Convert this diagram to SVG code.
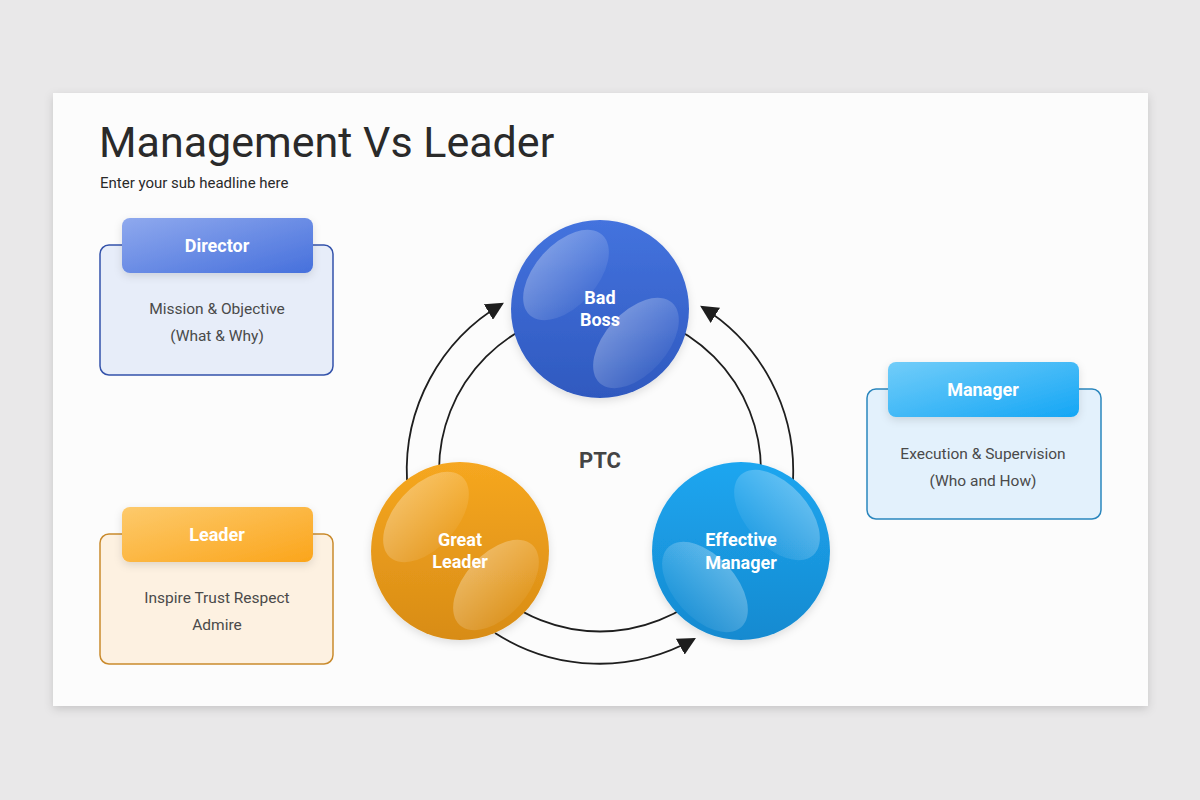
<svg xmlns="http://www.w3.org/2000/svg" width="1200" height="800" viewBox="0 0 1200 800">
<style>
.title{font-family:Roboto,"Liberation Sans",sans-serif;font-size:43px;fill:#2a2a2a}
.sub{font-family:Roboto,"Liberation Sans",sans-serif;font-size:15px;fill:#2a2a2a}
.hdr{font-family:Roboto,"Liberation Sans",sans-serif;font-size:18px;font-weight:bold;fill:#fff;text-anchor:middle}
.body{font-family:Roboto,"Liberation Sans",sans-serif;font-size:15.5px;fill:#4a4a4a;text-anchor:middle}
.ctext{font-family:Roboto,"Liberation Sans",sans-serif;font-size:18px;font-weight:bold;fill:#fff;text-anchor:middle}
.ptc{font-family:Roboto,"Liberation Sans",sans-serif;font-size:22px;font-weight:bold;fill:#444;text-anchor:middle}
.conn{fill:none;stroke:#1e1e1e;stroke-width:1.8}
.hl{fill:url(#hlg)}
</style>
<defs>
<filter id="cardsh" x="-5%" y="-5%" width="110%" height="115%">
<feDropShadow dx="0" dy="3" stdDeviation="5" flood-color="#000" flood-opacity="0.15"/>
</filter>
<filter id="sh" x="-20%" y="-20%" width="140%" height="140%">
<feDropShadow dx="0" dy="3" stdDeviation="4" flood-color="#000" flood-opacity="0.12"/>
</filter>
<marker id="arr" markerUnits="userSpaceOnUse" markerWidth="18" markerHeight="18" viewBox="0 0 16 16" refX="14" refY="8" orient="auto">
<path d="M0,0 L16,8 L0,16 z" fill="#1e1e1e"/>
</marker>
<linearGradient id="gDir" x1="0" y1="0" x2="1" y2="1"><stop offset="0" stop-color="#8fa9ee"/><stop offset="1" stop-color="#4670dc"/></linearGradient>
<linearGradient id="gLead" x1="0" y1="0" x2="1" y2="1"><stop offset="0" stop-color="#fdca6c"/><stop offset="1" stop-color="#fba51b"/></linearGradient>
<linearGradient id="gMan" x1="0" y1="0" x2="1" y2="1"><stop offset="0" stop-color="#72cdf9"/><stop offset="1" stop-color="#14a6f5"/></linearGradient>
<linearGradient id="cBlue" x1="0" y1="0" x2="0" y2="1"><stop offset="0" stop-color="#4473de"/><stop offset="1" stop-color="#2f59bf"/></linearGradient>
<linearGradient id="cOr" x1="0" y1="0" x2="0" y2="1"><stop offset="0" stop-color="#f6a720"/><stop offset="1" stop-color="#d88c16"/></linearGradient>
<linearGradient id="cSky" x1="0" y1="0" x2="0" y2="1"><stop offset="0" stop-color="#1da6f0"/><stop offset="1" stop-color="#168ad0"/></linearGradient>
<linearGradient id="hlg" x1="0" y1="0" x2="0" y2="1"><stop offset="0" stop-color="#fff" stop-opacity="0.30"/><stop offset="1" stop-color="#fff" stop-opacity="0.06"/></linearGradient>
</defs>
<rect width="1200" height="800" fill="#e9e8e9"/>
<rect x="53" y="93" width="1095" height="613" fill="#fcfcfc" filter="url(#cardsh)"/>
<text class="title" x="99" y="157">Management Vs Leader</text>
<text class="sub" x="100" y="188">Enter your sub headline here</text>

<g id="connectors">
<circle cx="600" cy="470.5" r="161" class="conn" stroke-width="1.6"/>
<path class="conn" d="M407,480 A193,193 0 0 1 502,304" marker-end="url(#arr)"/>
<path class="conn" d="M793,480 A193,193 0 0 0 702,307" marker-end="url(#arr)"/>
<path class="conn" d="M495,633 A193,193 0 0 0 694,639" marker-end="url(#arr)"/>
</g>

<g id="node-director">
<rect x="100" y="245" width="233" height="130" rx="9" fill="#e7edf9" stroke="#3352aa" stroke-width="1.5"/>
<rect x="122" y="218" width="191" height="55" rx="8" fill="url(#gDir)" filter="url(#sh)"/>
<text class="hdr" x="217" y="252">Director</text>
<text class="body" x="217" y="314">Mission &amp; Objective</text>
<text class="body" x="217" y="341">(What &amp; Why)</text>
</g>

<g id="node-leader">
<rect x="100" y="534" width="233" height="130" rx="9" fill="#fdf1e1" stroke="#c98a2c" stroke-width="1.5"/>
<rect x="122" y="507" width="191" height="55" rx="8" fill="url(#gLead)" filter="url(#sh)"/>
<text class="hdr" x="217" y="541">Leader</text>
<text class="body" x="217" y="603">Inspire Trust Respect</text>
<text class="body" x="217" y="630">Admire</text>
</g>

<g id="node-manager">
<rect x="867" y="389" width="234" height="130" rx="9" fill="#e3f1fc" stroke="#2a86bd" stroke-width="1.5"/>
<rect x="888" y="362" width="191" height="55" rx="8" fill="url(#gMan)" filter="url(#sh)"/>
<text class="hdr" x="983" y="396">Manager</text>
<text class="body" x="983" y="459">Execution &amp; Supervision</text>
<text class="body" x="983" y="486">(Who and How)</text>
</g>

<g id="node-badboss">
<circle cx="600" cy="309" r="89" fill="url(#cBlue)" filter="url(#sh)"/>
<ellipse class="hl" cx="566" cy="275" rx="54" ry="31" transform="rotate(-48 566 275)"/>
<ellipse class="hl" cx="636" cy="343" rx="54" ry="31" transform="rotate(-48 636 343)"/>
<text class="ctext" x="600" y="304">Bad</text>
<text class="ctext" x="600" y="326">Boss</text>
</g>

<g id="node-greatleader">
<circle cx="460" cy="551" r="89" fill="url(#cOr)" filter="url(#sh)"/>
<ellipse class="hl" cx="426" cy="517" rx="54" ry="31" transform="rotate(-48 426 517)"/>
<ellipse class="hl" cx="496" cy="585" rx="54" ry="31" transform="rotate(-48 496 585)"/>
<text class="ctext" x="460" y="546">Great</text>
<text class="ctext" x="460" y="568">Leader</text>
</g>

<g id="node-effectivemanager">
<circle cx="741" cy="551" r="89" fill="url(#cSky)" filter="url(#sh)"/>
<ellipse class="hl" cx="777" cy="515" rx="54" ry="31" transform="rotate(48 777 515)"/>
<ellipse class="hl" cx="705" cy="587" rx="54" ry="31" transform="rotate(48 705 587)"/>
<text class="ctext" x="741" y="546">Effective</text>
<text class="ctext" x="741" y="569">Manager</text>
</g>

<text class="ptc" x="600" y="468">PTC</text>
</svg>
